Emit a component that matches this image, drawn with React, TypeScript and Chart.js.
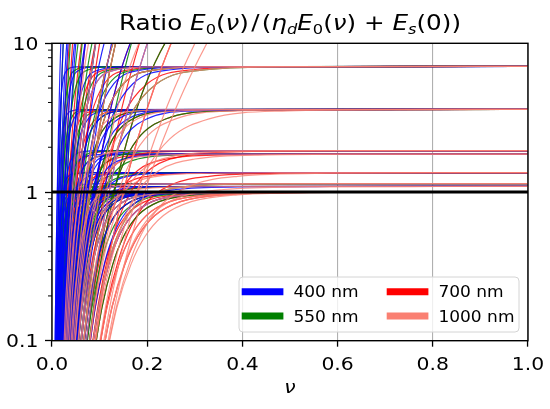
import React, { useEffect, useRef } from 'react';
import { Chart, registerables } from 'chart.js';

Chart.register(...registerables);

// ν positions (one row per rising branch) at which each branch reaches the tabulated ratio values
const branchNu: number[][] = [
  [0.0055, 0.0077, 0.00935, 0.011, 0.0132, 0.0165, 0.022, 0.033, 0.0495],
  [0.007, 0.0098, 0.0119, 0.014, 0.0168, 0.021, 0.028, 0.042, 0.063],
  [0.0085, 0.0119, 0.01445, 0.017, 0.0204, 0.0255, 0.034, 0.051, 0.0765],
  [0.01, 0.014, 0.017, 0.02, 0.024, 0.03, 0.04, 0.06, 0.09],
  [0.0115, 0.0161, 0.01955, 0.023, 0.0276, 0.0345, 0.046, 0.069, 0.1035],
  [0.013, 0.0182, 0.0221, 0.026, 0.0312, 0.039, 0.052, 0.078, 0.117],
  [0.015, 0.021, 0.0255, 0.03, 0.036, 0.045, 0.06, 0.09, 0.135],
  [0.017, 0.0238, 0.0289, 0.034, 0.0408, 0.051, 0.068, 0.102, 0.153],
  [0.019, 0.0266, 0.0323, 0.038, 0.0456, 0.057, 0.076, 0.114, 0.171],
  [0.021, 0.0294, 0.0357, 0.042, 0.0504, 0.063, 0.084, 0.126, 0.189],
  [0.023, 0.0322, 0.0391, 0.046, 0.0552, 0.069, 0.092, 0.138, 0.207],
  [0.025, 0.035, 0.0425, 0.05, 0.06, 0.075, 0.1, 0.15, 0.225],
  [0.0275, 0.0385, 0.04675, 0.055, 0.066, 0.0825, 0.11, 0.165, 0.2475],
  [0.03, 0.042, 0.051, 0.06, 0.072, 0.09, 0.12, 0.18, 0.27],
  [0.0325, 0.0455, 0.05525, 0.065, 0.078, 0.0975, 0.13, 0.195, 0.2925],
  [0.035, 0.049, 0.0595, 0.07, 0.084, 0.105, 0.14, 0.21, 0.315],
  [0.0375, 0.0525, 0.06375, 0.075, 0.09, 0.1125, 0.15, 0.225, 0.3375],
  [0.04, 0.056, 0.068, 0.08, 0.096, 0.12, 0.16, 0.24, 0.36],
  [0.0425, 0.0595, 0.07225, 0.085, 0.102, 0.1275, 0.17, 0.255, 0.3825],
  [0.045, 0.063, 0.0765, 0.09, 0.108, 0.135, 0.18, 0.27, 0.405],
  [0.05, 0.07, 0.085, 0.1, 0.12, 0.15, 0.2, 0.3, 0.45],
  [0.055, 0.077, 0.0935, 0.11, 0.132, 0.165, 0.22, 0.33, 0.495],
  [0.06, 0.084, 0.102, 0.12, 0.144, 0.18, 0.24, 0.36, 0.54],
  [0.065, 0.091, 0.1105, 0.13, 0.156, 0.195, 0.26, 0.39, 0.585],
  [0.07, 0.098, 0.119, 0.14, 0.168, 0.21, 0.28, 0.42, 0.63],
  [0.075, 0.105, 0.1275, 0.15, 0.18, 0.225, 0.3, 0.45, 0.675],
  [0.0825, 0.1155, 0.14025, 0.165, 0.198, 0.2475, 0.33, 0.495, 0.7425],
  [0.09, 0.126, 0.153, 0.18, 0.216, 0.27, 0.36, 0.54, 0.81],
  [0.0975, 0.1365, 0.16575, 0.195, 0.234, 0.2925, 0.39, 0.585, 0.8775],
];

// asymptotic limits 1/η_d of the ratio
const limits: number[] = [1, 1.09, 1.14, 1.35, 1.8, 1.9, 3.6, 7, 30, 1000];

// ratio values along a branch, one row per limit
const riseValues: number[][] = [
  [0.0423, 0.1673, 0.3249, 0.5, 0.6943, 0.8611, 0.9577, 0.9929, 0.9989],
  [0.0425, 0.1696, 0.3339, 0.5215, 0.7366, 0.927, 1.0399, 1.0817, 1.0886],
  [0.0426, 0.1708, 0.3384, 0.5327, 0.759, 0.963, 1.0853, 1.1308, 1.1385],
  [0.0428, 0.1749, 0.3548, 0.5745, 0.8467, 1.1086, 1.274, 1.337, 1.348],
  [0.0431, 0.1807, 0.3798, 0.6429, 1.0042, 1.395, 1.6673, 1.7773, 1.7964],
  [0.0432, 0.1817, 0.384, 0.6552, 1.0346, 1.4544, 1.7528, 1.8747, 1.896],
  [0.0437, 0.1903, 0.4245, 0.7826, 1.3926, 2.2776, 3.1057, 3.51, 3.585],
  [0.0439, 0.1953, 0.4503, 0.875, 1.7149, 3.288, 5.3457, 6.667, 6.944],
  [0.0441, 0.1996, 0.4737, 0.9677, 2.1115, 5.1384, 12.9, 24.7, 29],
  [0.0442, 0.2009, 0.4813, 1, 2.2714, 6.2005, 22.62, 140.3, 870],
];

// curves per wavelength: [branch row, limit index]
const curves400: number[][] = [
  [0, 9], [0, 7], [1, 6], [1, 0], [1, 9], [2, 8], [2, 3], [3, 7], [3, 0], [3, 9], [4, 5], [4, 6],
  [5, 0], [5, 8], [5, 2], [6, 9], [6, 4], [7, 7], [7, 0], [8, 6], [8, 3], [8, 8], [9, 0], [9, 9],
  [9, 4], [10, 1], [10, 7], [11, 6], [11, 0], [11, 3], [12, 9], [12, 5], [13, 0], [13, 8], [13, 5],
  [14, 7], [14, 2], [15, 0], [15, 6], [15, 1], [16, 9], [16, 4], [17, 0], [17, 3], [17, 6],
  [18, 7], [18, 0], [19, 0], [19, 8], [20, 6], [20, 0], [21, 0], [22, 9], [23, 1], [24, 0],
];
const curves550: number[][] = [
  [1, 9], [2, 0], [2, 7], [3, 6], [3, 3], [4, 9], [4, 0], [5, 7], [5, 1], [6, 8], [6, 0], [7, 6],
  [7, 5], [8, 9], [8, 0], [9, 7], [9, 4], [10, 0], [10, 8], [11, 6], [11, 2], [12, 0], [12, 9],
  [13, 7], [13, 3], [14, 0], [14, 6], [15, 8], [15, 5], [16, 0], [16, 7], [16, 3], [17, 9],
  [17, 1], [18, 0], [18, 6], [19, 4], [19, 0], [20, 0], [20, 9], [21, 7], [21, 0], [22, 0],
  [22, 6], [23, 8], [24, 2], [25, 0],
];
const curves700: number[][] = [
  [3, 8], [5, 0], [5, 9], [6, 6], [6, 1], [7, 0], [7, 8], [8, 7], [8, 5], [9, 9], [9, 0], [10, 6],
  [10, 3], [11, 0], [11, 8], [12, 7], [12, 2], [13, 0], [13, 9], [14, 6], [14, 4], [15, 0], [15, 8],
  [16, 7], [16, 1], [17, 0], [17, 9], [18, 6], [18, 5], [19, 0], [19, 8], [20, 7], [20, 3],
  [21, 0], [21, 9], [22, 6], [22, 4], [23, 0], [23, 8], [24, 5], [24, 0], [25, 0], [25, 9],
  [26, 0], [26, 3], [27, 0],
];
const curves1000: number[][] = [
  [9, 8], [10, 7], [11, 5], [12, 9], [13, 6], [14, 2], [15, 8], [16, 7], [17, 4], [17, 9],
  [19, 6], [19, 1], [20, 0], [20, 8], [21, 7], [21, 3], [22, 9], [23, 6], [23, 5], [24, 0],
  [24, 2], [25, 4], [25, 9], [26, 0], [26, 6], [27, 0], [27, 1], [27, 9], [28, 0], [28, 3],
  [28, 9],
];

const seriesLabels = ['400 nm', '550 nm', '700 nm', '1000 nm'];
const seriesCurves = [curves400, curves550, curves700, curves1000];
const seriesColors = ['#0000ff', '#008000', '#ff0000', '#fa8072'];
const lineColors = ['rgba(0,0,255,0.85)', 'rgba(0,128,0,0.85)', 'rgba(255,0,0,0.82)', 'rgba(250,128,114,0.8)'];

const xTicks = [0, 0.2, 0.4, 0.6, 0.8, 1.0];
const xTickLabels = ['0.0', '0.2', '0.4', '0.6', '0.8', '1.0'];
const yMajorTicks = [0.1, 1, 10];
const yMajorLabels = ['0.1', '1', '10'];
const yMinorTicks = [0.2, 0.3, 0.4, 0.5, 0.6, 0.7, 0.8, 0.9, 2, 3, 4, 5, 6, 7, 8, 9];
const refLine = 1;

const FONT = "'DejaVu Sans', sans-serif";
const STRETCH = 1.12;

// title pieces: [text, style] n=normal, i=italic, ns=normal subscript, is=italic subscript, op=operator
const titleParts: [string, string][] = [
  ['Ratio ', 'n'], ['E', 'i'], ['0', 'ns'], ['(', 'n'], ['ν', 'i'], [')', 'n'], ['/', 'op'],
  ['(', 'n'], ['η', 'i'], ['d', 'is'], ['E', 'i'], ['0', 'ns'], ['(', 'n'], ['ν', 'i'], [')', 'n'],
  [' + ', 'n'], ['E', 'i'], ['s', 'is'], ['(0))', 'n'],
];

const isMajor = (v: number) => yMajorTicks.some((m) => Math.abs(m - v) / m < 1e-6);

function stretchedText(ctx: CanvasRenderingContext2D, text: string, x: number, y: number, align: CanvasTextAlign) {
  ctx.save();
  ctx.translate(x, y);
  ctx.scale(STRETCH, 1);
  ctx.textAlign = align;
  ctx.fillText(text, 0, 0);
  ctx.restore();
}

const decorPlugin = {
  id: 'decor',
  afterDatasetsDraw(chart: any) {
    const { ctx, chartArea: a, scales } = chart;
    ctx.save();
    ctx.strokeStyle = '#000';
    ctx.lineWidth = 1.4;
    ctx.strokeRect(a.left, a.top, a.right - a.left, a.bottom - a.top);
    ctx.lineWidth = 1;
    yMinorTicks.forEach((v) => {
      const y = scales.y.getPixelForValue(v);
      ctx.beginPath();
      ctx.moveTo(a.left - 4, y);
      ctx.lineTo(a.left, y);
      ctx.stroke();
    });
    const bw = 280;
    const bh = 55;
    const x0 = a.right - 9 - bw;
    const y0 = a.bottom - 8.7 - bh;
    const r = 4;
    ctx.beginPath();
    ctx.moveTo(x0 + r, y0);
    ctx.lineTo(x0 + bw - r, y0);
    ctx.quadraticCurveTo(x0 + bw, y0, x0 + bw, y0 + r);
    ctx.lineTo(x0 + bw, y0 + bh - r);
    ctx.quadraticCurveTo(x0 + bw, y0 + bh, x0 + bw - r, y0 + bh);
    ctx.lineTo(x0 + r, y0 + bh);
    ctx.quadraticCurveTo(x0, y0 + bh, x0, y0 + bh - r);
    ctx.lineTo(x0, y0 + r);
    ctx.quadraticCurveTo(x0, y0, x0 + r, y0);
    ctx.closePath();
    ctx.fillStyle = 'rgba(255,255,255,0.8)';
    ctx.fill();
    ctx.strokeStyle = '#d4d4d4';
    ctx.lineWidth = 1;
    ctx.stroke();
    const cols = [x0 + 2.7, x0 + 147.7];
    const rows = [y0 + 14.7, y0 + 39];
    ctx.font = `15.2px ${FONT}`;
    ctx.textBaseline = 'alphabetic';
    seriesLabels.forEach((lab, i) => {
      const cx = cols[Math.floor(i / 2)];
      const cy = rows[i % 2];
      ctx.strokeStyle = seriesColors[i];
      ctx.lineWidth = 7;
      ctx.lineCap = 'butt';
      ctx.beginPath();
      ctx.moveTo(cx, cy);
      ctx.lineTo(cx + 41.7, cy);
      ctx.stroke();
      ctx.fillStyle = '#000';
      stretchedText(ctx, lab, cx + 51.7, cy + 5.6, 'left');
    });
    ctx.restore();
  },
  afterDraw(chart: any) {
    const { ctx, chartArea: a, scales } = chart;
    ctx.save();
    ctx.fillStyle = '#000';
    ctx.textBaseline = 'alphabetic';
    ctx.font = `18.2px ${FONT}`;
    xTicks.forEach((v, i) => {
      stretchedText(ctx, xTickLabels[i], scales.x.getPixelForValue(v), 370, 'center');
    });
    yMajorTicks.forEach((v, i) => {
      stretchedText(ctx, yMajorLabels[i], 38.5, scales.y.getPixelForValue(v) + 6.6, 'right');
    });
    const big = 22;
    const small = 14.5;
    const fontFor = (st: string) => {
      const it = st === 'i' || st === 'is';
      const sub = st === 'ns' || st === 'is';
      return `${it ? 'italic ' : ''}${sub ? small : big}px ${FONT}`;
    };
    const pad = (st: string) => (st === 'op' ? 2 : 0);
    let total = 0;
    titleParts.forEach(([t, st]) => {
      ctx.font = fontFor(st);
      total += (ctx.measureText(t).width + 2 * pad(st)) * STRETCH;
    });
    let x = (a.left + a.right) / 2 - total / 2;
    const base = 29.5;
    titleParts.forEach(([t, st]) => {
      ctx.font = fontFor(st);
      const sub = st === 'ns' || st === 'is';
      x += pad(st) * STRETCH;
      stretchedText(ctx, t, x, sub ? base + 4.5 : base, 'left');
      x += (ctx.measureText(t).width + pad(st)) * STRETCH;
    });
    ctx.font = `italic 18.2px ${FONT}`;
    stretchedText(ctx, 'ν', (a.left + a.right) / 2, 393, 'center');
    ctx.restore();
  },
};

export default function App() {
  const ref = useRef<HTMLCanvasElement>(null);
  useEffect(() => {
    if (!ref.current) return;
    const datasets: any[] = [];
    datasets.push({
      data: [{ x: 0, y: refLine }, { x: 1, y: refLine }],
      borderColor: '#000',
      borderWidth: 2.8,
      pointRadius: 0,
      order: 0,
    });
    const makeLine = (gi: number, b: number, l: number, order: number) => {
      const xs = branchNu[b];
      const ys = riseValues[l];
      const pts = xs.map((x, i) => ({ x, y: ys[i] }));
      if (xs[xs.length - 1] < 1) pts.push({ x: 1, y: limits[l] });
      return {
        data: pts,
        borderColor: lineColors[gi],
        borderWidth: 1.2,
        pointRadius: 0,
        cubicInterpolationMode: 'monotone',
        order,
      };
    };
    // 400, 550 and 700 nm curves interleaved; 1000 nm curves drawn over them
    const mixed = seriesCurves.slice(0, 3);
    const maxLen = Math.max(...mixed.map((c) => c.length));
    let drawIndex = 0;
    for (let k = 0; k < maxLen; k++) {
      mixed.forEach((curves, gi) => {
        if (k >= curves.length) return;
        const [b, l] = curves[k];
        datasets.push(makeLine(gi, b, l, 10000 - drawIndex));
        drawIndex++;
      });
    }
    curves1000.forEach(([b, l]) => datasets.push(makeLine(3, b, l, 1)));

    const chart = new Chart(ref.current, {
      type: 'line',
      data: { datasets },
      options: {
        animation: false,
        responsive: true,
        maintainAspectRatio: false,
        events: [],
        layout: { padding: { top: 43.3, right: 22, left: 0, bottom: 0 } },
        plugins: { legend: { display: false }, title: { display: false }, tooltip: { enabled: false } },
        scales: {
          x: {
            type: 'linear',
            min: 0,
            max: 1,
            afterBuildTicks: (s: any) => {
              s.ticks = xTicks.map((v) => ({ value: v }));
            },
            afterFit: (s: any) => {
              s.height = 68.3;
            },
            ticks: { display: false },
            grid: {
              color: '#b0b0b0',
              lineWidth: 1.1,
              tickLength: 6,
              tickColor: '#000',
              tickWidth: 1.3,
            },
            border: { display: false },
          },
          y: {
            type: 'logarithmic',
            min: 0.1,
            max: 10,
            afterBuildTicks: (s: any) => {
              s.ticks = [...yMajorTicks, ...yMinorTicks].sort((p, q) => p - q).map((v) => ({ value: v }));
            },
            afterFit: (s: any) => {
              s.width = 52;
            },
            ticks: { display: false },
            grid: {
              drawOnChartArea: false,
              tickLength: 7,
              tickWidth: 1.3,
              tickColor: (c: any) => (c.tick && isMajor(c.tick.value) ? '#000' : 'rgba(0,0,0,0)'),
            },
            border: { display: false },
          },
        },
      } as any,
      plugins: [decorPlugin],
    });
    return () => chart.destroy();
  }, []);

  return (
    <div style={{ position: 'fixed', left: 0, top: 0, width: 550, height: 409, background: '#fff' }}>
      <canvas ref={ref} />
    </div>
  );
}
